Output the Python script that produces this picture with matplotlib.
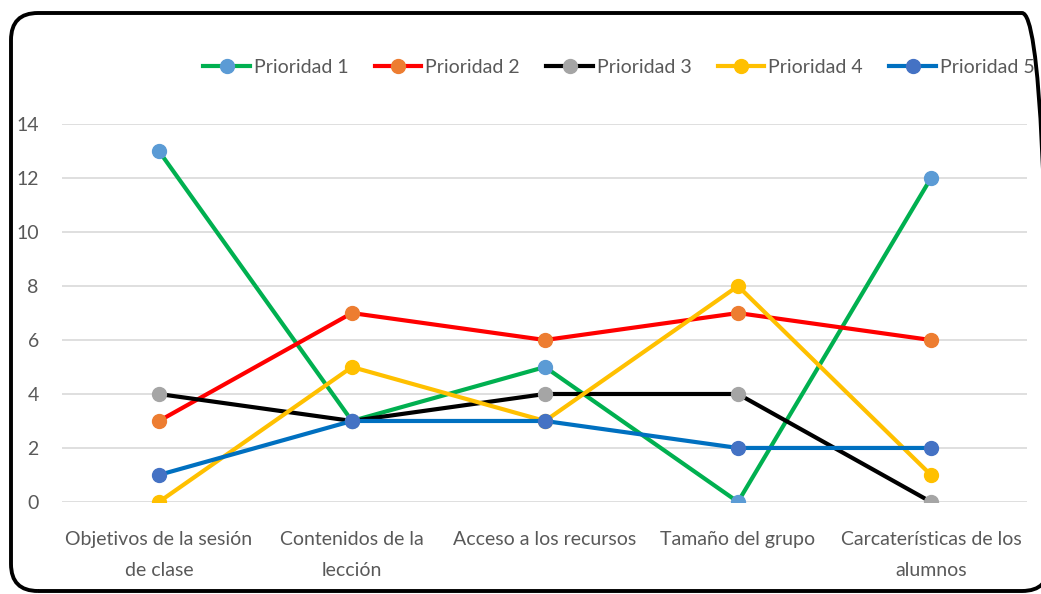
import matplotlib
matplotlib.use("Agg")
import matplotlib.pyplot as plt
from matplotlib.patches import FancyBboxPatch

plt.rcParams["font.family"] = ["Lato", "DejaVu Sans"]

# --- data ---------------------------------------------------------------------
categories = [
    "Objetivos de la sesión\nde clase",
    "Contenidos de la\nlección",
    "Acceso a los recursos",
    "Tamaño del grupo",
    "Carcaterísticas de los\nalumnos",
]
series_names = ["Prioridad 1", "Prioridad 2", "Prioridad 3", "Prioridad 4", "Prioridad 5"]
prioridad_1 = [13, 3, 5, 0, 12]
prioridad_2 = [3, 7, 6, 7, 6]
prioridad_3 = [4, 3, 4, 4, 0]
prioridad_4 = [0, 5, 3, 8, 1]
prioridad_5 = [1, 3, 3, 2, 2]
yticks = [0, 2, 4, 6, 8, 10, 12, 14]

line_colors = ["#00B050", "#FF0000", "#000000", "#FFC000", "#0070C0"]
marker_colors = ["#5B9BD5", "#ED7D31", "#A5A5A5", "#FFC000", "#4472C4"]
text_color = "#595959"

fig = plt.figure(figsize=(10.41, 5.94), dpi=100)
ax = fig.add_axes([0.060, 0.155, 0.927, 0.636])

x = range(len(categories))
all_series = [prioridad_1, prioridad_2, prioridad_3, prioridad_4, prioridad_5]
for name, vals, lc, mc in zip(series_names, all_series, line_colors, marker_colors):
    ax.plot(x, vals, color=lc, lw=3.0, marker="o", markersize=10,
            markerfacecolor=mc, markeredgecolor=mc, label=name, zorder=3,
            solid_joinstyle="round")

ax.set_xlim(-0.5, len(categories) - 0.5)
ax.set_ylim(0, 14)
ax.set_yticks(yticks)
ax.set_xticks(list(x))
ax.set_xticklabels(categories, linespacing=2.0)
ax.yaxis.grid(True, color="#D9D9D9", lw=1.2, zorder=0)
ax.tick_params(axis="both", length=0, labelsize=14, colors=text_color)
ax.tick_params(axis="x", pad=21)
ax.tick_params(axis="y", pad=17)
for s in ax.spines.values():
    s.set_visible(False)

fig.legend(loc="center left", bbox_to_anchor=(0.186, 0.886), ncol=5, frameon=False,
           fontsize=14, labelcolor=text_color, handlelength=2.4,
           columnspacing=1.35, handletextpad=0.2, borderpad=0)

# rounded chart border (runs off the right edge, as in the source)
border = FancyBboxPatch((0.11, 0.03), 10.38, 5.78,
                        boxstyle="round,pad=0,rounding_size=0.27",
                        transform=fig.dpi_scale_trans, fill=False,
                        edgecolor="black", lw=2.8)
fig.patches.append(border)

fig.savefig("out.png", dpi=100)
